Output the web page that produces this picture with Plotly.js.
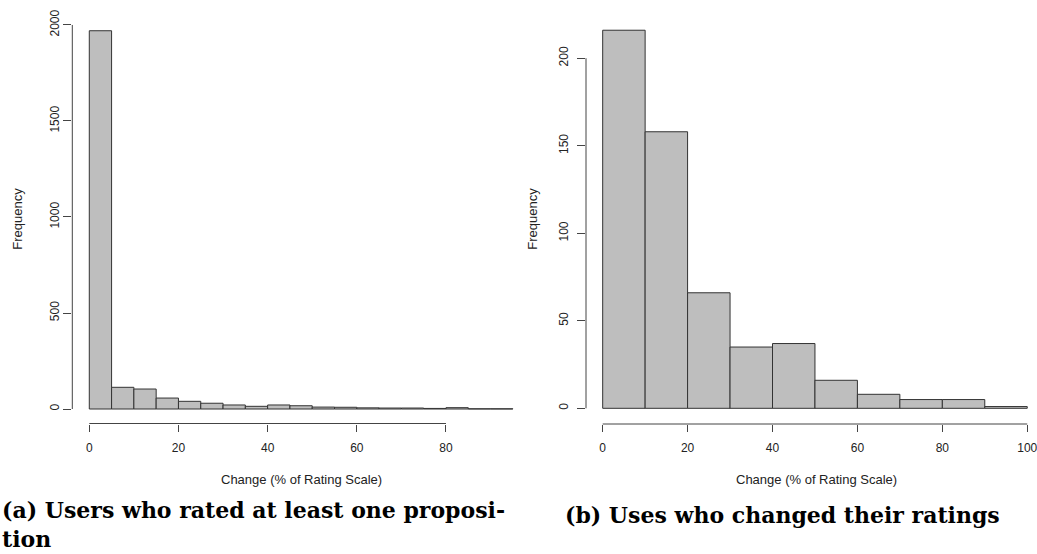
<!DOCTYPE html>
<html>
<head>
<meta charset="utf-8">
<script src="https://cdn.plot.ly/plotly-3.0.1.min.js"></script>
<style>html,body{margin:0;padding:0;background:#fff;}#chart{width:1037px;height:554px;}</style>
</head>
<body>
<div id="chart"></div>
<script>
// ---- data ----
const leftBinEdges = [0,5,10,15,20,25,30,35,40,45,50,55,60,65,70,75,80,85,90,95];
const leftCounts   = [1970,113,104,57,40,30,21,14,21,17,10,9,6,5,5,3,7,1,1];
const rightBinEdges = [0,10,20,30,40,50,60,70,80,90,100];
const rightCounts   = [216,158,66,35,37,16,8,5,5,1];
const leftXTicks  = [0,20,40,60,80];
const leftYTicks  = [0,500,1000,1500,2000];
const rightXTicks = [0,20,40,60,80,100];
const rightYTicks = [0,50,100,150,200];
const xTitle = "Change (% of Rating Scale)";
const yTitle = "Frequency";
const captionA = ["(a) Users who rated at least one proposi-", "tion"];
const captionB = "(b) Uses who changed their ratings";

// ---- helpers ----
const W = 1037, H = 554;
const fx = p => p / W;
const fy = p => 1 - p / H;
function mids(edges){ const m=[]; for(let i=0;i<edges.length-1;i++) m.push((edges[i]+edges[i+1])/2); return m; }
function widths(edges){ const w=[]; for(let i=0;i<edges.length-1;i++) w.push(edges[i+1]-edges[i]); return w; }

const barStyle = {color:'#BEBEBE', line:{color:'#333333', width:1}};
const sans = '"Liberation Sans", Arial, Helvetica, sans-serif';
const tickFont = {family: sans, size: 12, color: '#222'};
const serif = '"DejaVu Serif", serif';

const traces = [
  {type:'bar', x: mids(leftBinEdges), y: leftCounts, width: widths(leftBinEdges), marker: barStyle, xaxis:'x', yaxis:'y', hoverinfo:'x+y'},
  {type:'bar', x: mids(rightBinEdges), y: rightCounts, width: widths(rightBinEdges), marker: barStyle, xaxis:'x2', yaxis:'y2', hoverinfo:'x+y'}
];

function xax(domain, range, ticks, anchor){
  return {domain: domain, range: range, tickvals: ticks, ticktext: ticks.map(String), ticks:'outside', ticklen:7, tickwidth:1, tickcolor:'#444',
    showline:false, showgrid:false, zeroline:false, tickfont: tickFont, anchor: anchor, ticklabelstandoff: 6,
    ticklabeloverflow:'allow', fixedrange:true};
}
function yax(domain, range, ticks, anchor, standoff){
  return {domain: domain, range: range, tickvals: ticks, ticktext: ticks.map(String), ticks:'outside', ticklen:8, tickwidth:1, tickcolor:'#444',
    showline:false, showgrid:false, zeroline:false, tickfont: tickFont, tickangle:-90, anchor: anchor, ticklabelstandoff: standoff,
    ticklabeloverflow:'allow', fixedrange:true};
}

const layout = {
  width: W, height: H,
  margin: {l:0, r:0, t:0, b:0},
  paper_bgcolor:'#fff', plot_bgcolor:'#fff',
  showlegend:false,
  bargap:0,
  xaxis:  xax([fx(72.3), fx(520)], [-3.81, 96.6], leftXTicks, 'y'),
  yaxis:  yax([fy(423.5), fy(15)], [-75.5, 2052], leftYTicks, 'x', 1.8),
  xaxis2: xax([fx(586), fx(1037)], [-3.93, 102.3], rightXTicks, 'y2'),
  yaxis2: yax([fy(424), fy(15)], [-8.97, 224.7], rightYTicks, 'x2', 4),
  shapes: [
    {type:'line', xref:'x', yref:'y domain', x0:leftXTicks[0], x1:leftXTicks[leftXTicks.length-1], y0:0, y1:0, line:{color:'#444', width:1}},
    {type:'line', xref:'x domain', yref:'y', x0:0, x1:0, y0:leftYTicks[0], y1:leftYTicks[leftYTicks.length-1], line:{color:'#444', width:1}},
    {type:'line', xref:'x2', yref:'y2 domain', x0:rightXTicks[0], x1:rightXTicks[rightXTicks.length-1], y0:0, y1:0, line:{color:'#444', width:1}},
    {type:'line', xref:'x2 domain', yref:'y2', x0:0, x1:0, y0:rightYTicks[0], y1:rightYTicks[rightYTicks.length-1], line:{color:'#444', width:1}}
  ],
  annotations: [
    {text:xTitle, xref:'paper', yref:'paper', x:fx(301), y:fy(479), showarrow:false, xanchor:'center', yanchor:'middle', font:{family:sans, size:13, color:'#222'}},
    {text:xTitle, xref:'paper', yref:'paper', x:fx(816), y:fy(479), showarrow:false, xanchor:'center', yanchor:'middle', font:{family:sans, size:13, color:'#222'}},
    {text:yTitle, xref:'paper', yref:'paper', x:fx(16.7), y:fy(219), showarrow:false, textangle:-90, xanchor:'center', yanchor:'middle', font:{family:sans, size:13, color:'#222'}},
    {text:yTitle, xref:'paper', yref:'paper', x:fx(531.7), y:fy(219), showarrow:false, textangle:-90, xanchor:'center', yanchor:'middle', font:{family:sans, size:13, color:'#222'}},
    {text:'<b>'+captionA.join('<br>')+'</b>', xref:'paper', yref:'paper', x:fx(0), y:0, showarrow:false, xanchor:'left', yanchor:'bottom', align:'left', font:{family:serif, size:22, color:'#000'}},
    {text:'<b>'+captionB+'</b>', xref:'paper', yref:'paper', x:fx(563), y:fy(515), showarrow:false, xanchor:'left', yanchor:'middle', font:{family:serif, size:22, color:'#000'}}
  ]
};

Plotly.newPlot('chart', traces, layout, {displayModeBar:false, staticPlot:true});
</script>
</body>
</html>
